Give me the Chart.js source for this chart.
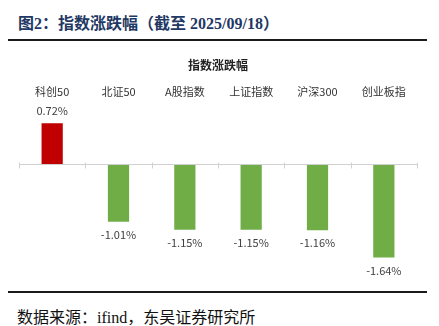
<!DOCTYPE html>
<html>
<head>
<meta charset="utf-8">
<script src="https://cdn.jsdelivr.net/npm/chart.js@4.4.1/dist/chart.umd.min.js"></script>
<style>
  body { margin: 0; background: #fff; width: 439px; height: 326px; position: relative; overflow: hidden; }
  .head { position: absolute; left: 18px; top: 14px; font: bold 16px/20px "Liberation Serif", "Noto Sans CJK SC", serif; color: #1f3864; white-space: nowrap; }
  .rule { position: absolute; left: 8px; width: 419px; height: 2px; background: #1a1a1a; }
  .src { position: absolute; left: 17px; top: 308px; font: 16px/20px "Liberation Serif", "Noto Sans CJK SC", serif; color: #111; white-space: nowrap; }
  #wrap { position: absolute; left: 0; top: 53px; width: 439px; height: 232px; }
</style>
</head>
<body>
<div class="head">图2：指数涨跌幅（截至 2025/09/18）</div>
<div class="rule" style="top:39px"></div>
<div id="wrap"><canvas id="zdfChart" width="439" height="232"></canvas></div>
<div class="rule" style="top:291px"></div>
<div class="src">数据来源：ifind，东吴证券研究所</div>
<script>
// 各指数涨跌幅（%）
const indices = ['科创50', '北证50', 'A股指数', '上证指数', '沪深300', '创业板指'];
const changes = [0.72, -1.01, -1.15, -1.15, -1.16, -1.64];

const upColor = '#c00000';
const downColor = '#70ad47';

// 零轴线和类别分隔刻度
const zeroAxis = {
    id: 'zeroAxis',
    afterDatasetsDraw(chart) {
        const { ctx, chartArea, scales } = chart;
        const y0 = Math.round(scales.y.getPixelForValue(0)) + 0.5;
        const n = indices.length;
        const step = (chartArea.right - chartArea.left) / n;
        ctx.save();
        ctx.strokeStyle = '#d0d0d0';
        ctx.lineWidth = 1;
        ctx.beginPath();
        ctx.moveTo(chartArea.left, y0);
        ctx.lineTo(chartArea.right, y0);
        for (let i = 0; i <= n; i++) {
            const x = Math.round(chartArea.left + i * step) + 0.5;
            ctx.moveTo(x, y0 - 2);
            ctx.lineTo(x, y0 + 4);
        }
        ctx.stroke();
        ctx.restore();
    }
};

// 柱子上下的数值标签
const valueLabels = {
    id: 'valueLabels',
    afterDatasetsDraw(chart) {
        const { ctx } = chart;
        const meta = chart.getDatasetMeta(0);
        ctx.save();
        ctx.font = '11px "Noto Sans CJK SC", "Noto Sans", sans-serif';
        ctx.fillStyle = '#404040';
        ctx.textAlign = 'center';
        ctx.textBaseline = 'middle';
        meta.data.forEach((bar, i) => {
            const v = changes[i];
            const y = v >= 0 ? bar.y - 13 : bar.y + 13;
            ctx.fillText(v.toFixed(2) + '%', bar.x, y);
        });
        ctx.restore();
    }
};

new Chart(document.getElementById('zdfChart').getContext('2d'), {
    type: 'bar',
    data: {
        labels: indices,
        datasets: [{
            data: changes,
            backgroundColor: changes.map(v => v >= 0 ? upColor : downColor),
            borderWidth: 0,
            categoryPercentage: 1,
            barPercentage: 0.32
        }]
    },
    options: {
        responsive: false,
        animation: false,
        layout: { padding: { left: 19, right: 22, top: 0, bottom: 7 } },
        scales: {
            x: {
                position: 'top',
                grid: { display: false, drawTicks: false },
                border: { display: false },
                ticks: {
                    color: '#333',
                    padding: 6,
                    maxRotation: 0,
                    font: { size: 11, family: '"Noto Sans CJK SC", sans-serif' }
                }
            },
            y: {
                display: false,
                min: -2.0,
                max: 1.05
            }
        },
        plugins: {
            legend: { display: false },
            tooltip: { enabled: false },
            title: {
                display: true,
                text: '指数涨跌幅',
                color: '#222',
                font: { size: 12, weight: 'bold', family: '"Noto Sans CJK SC", sans-serif' },
                padding: { top: 5, bottom: 7 }
            }
        }
    },
    plugins: [zeroAxis, valueLabels]
});
</script>
</body>
</html>
